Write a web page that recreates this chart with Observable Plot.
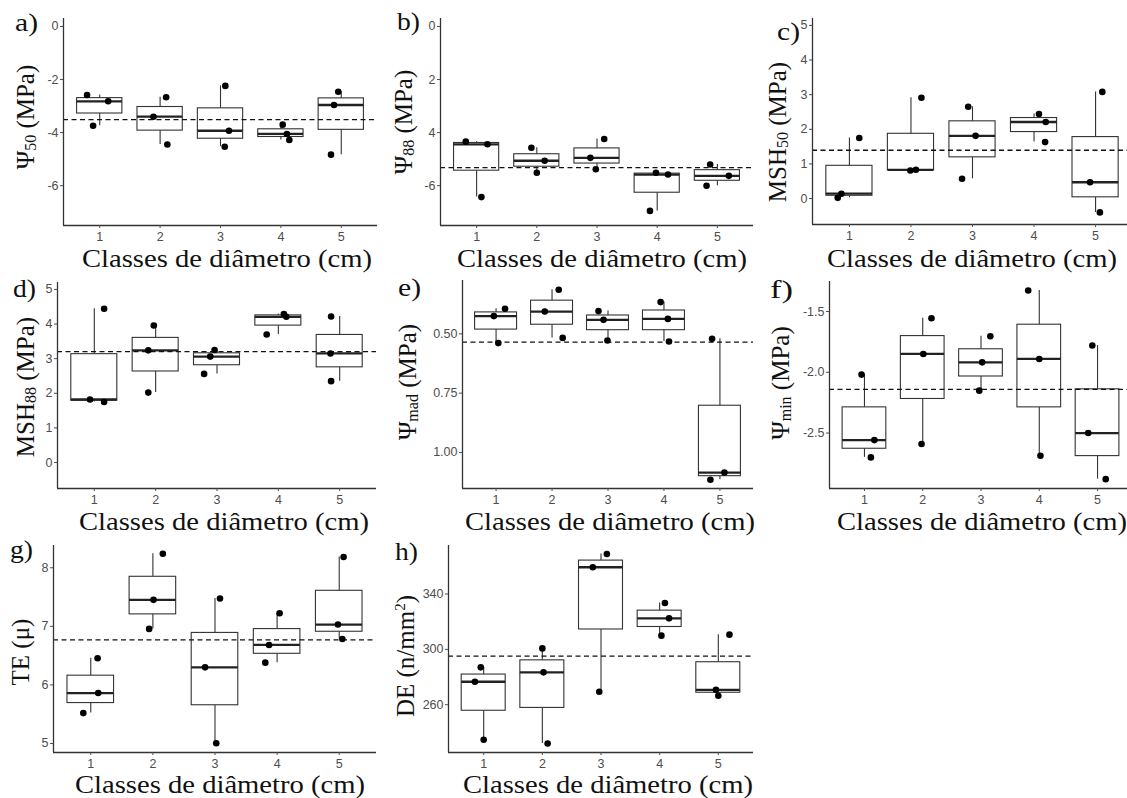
<!DOCTYPE html>
<html><head><meta charset="utf-8">
<script src="https://cdn.jsdelivr.net/npm/d3@7"></script>
<script src="https://cdn.jsdelivr.net/npm/@observablehq/plot@0.6"></script>
<style>
html,body{margin:0;padding:0;background:#fff;overflow:hidden}
#wrap{position:relative;width:1127px;height:798px;overflow:hidden;background:#fff}
#overlay{position:absolute;left:0;top:0;pointer-events:none}
</style></head><body><div id="wrap"></div>
<script>
// ---- data (3 trees per diameter class) ----
const classes = [1, 2, 3, 4, 5];
const xTitle = "Classes de diâmetro (cm)";
const panelLetters = ["a)", "b)", "c)", "d)", "e)", "f)", "g)", "h)"];

const psi50 = [[-2.58,-2.82,-3.74],[-3.40,-2.67,-4.45],[-2.24,-3.93,-4.53],[-3.70,-4.05,-4.28],[-2.46,-2.96,-4.83]];
const psi50Jit = [[-0.21,0.14,-0.11],[-0.11,0.10,0.12],[0.08,0.14,0.07],[0.03,0.10,0.14],[-0.05,-0.12,-0.17]];
const psi50Ticks = [0, -2, -4, -6];
const psi50TickLabels = ["0", "-2", "-4", "-6"];

const psi88 = [[-4.34,-4.44,-6.43],[-4.57,-5.06,-5.51],[-4.24,-4.95,-5.38],[-5.51,-5.58,-6.95],[-5.20,-5.63,-6.00]];
const psi88Jit = [[-0.18,0.18,0.08],[-0.09,0.13,0.0],[0.12,-0.11,-0.02],[-0.02,0.18,-0.12],[-0.12,0.19,-0.18]];
const psi88Ticks = [0, -2, -4, -6];
const psi88TickLabels = ["0", "2", "4", "-6"];

const msh50 = [[0.02,0.14,1.75],[0.81,0.83,2.91],[0.57,1.81,2.65],[2.44,2.21,1.63],[3.08,0.47,-0.40]];
const msh50Jit = [[-0.19,-0.13,0.16],[-0.01,0.08,0.17],[-0.17,0.05,-0.07],[0.08,0.19,0.18],[0.11,-0.09,0.07]];
const msh50Ticks = [0, 1, 2, 3, 4, 5];
const msh50TickLabels = ["0", "1", "2", "3", "4", "5"];

const msh88 = [[1.82,1.75,4.44],[3.24,3.96,2.02],[3.25,3.06,2.56],[4.29,4.21,3.70],[4.22,3.15,2.35]];
const msh88Jit = [[-0.07,0.16,0.16],[-0.12,-0.03,-0.12],[-0.04,-0.11,-0.21],[0.09,0.13,-0.19],[-0.14,-0.15,-0.14]];
const msh88Ticks = [0, 1, 2, 3, 4, 5];
const msh88TickLabels = ["0", "1", "2", "3", "4", "5"];

const psiMad = [[0.394,0.425,0.539],[0.314,0.406,0.517],[0.404,0.441,0.528],[0.366,0.437,0.532],[0.521,1.085,1.115]];
const psiMadJit = [[0.16,-0.04,0.04],[0.12,-0.13,0.19],[-0.17,-0.08,-0.01],[-0.06,0.07,0.09],[-0.14,0.08,-0.17]];
const psiMadTicks = [0.5, 0.75, 1.0];
const psiMadTickLabels = ["0.50", "0.75", "1.00"];

const psiMin = [[-2.019,-2.558,-2.70],[-1.555,-1.849,-2.59],[-1.703,-1.918,-2.151],[-1.327,-1.890,-2.687],[-1.78,-2.50,-2.879]];
const psiMinJit = [[-0.05,0.17,0.11],[0.15,0.01,-0.02],[0.16,0.02,-0.03],[-0.19,0.0,0.02],[-0.09,-0.16,0.14]];
const psiMinTicks = [-1.5, -2.0, -2.5];
const psiMinTickLabels = ["-1.5", "-2.0", "-2.5"];

const te = [[6.454,5.861,5.519],[8.24,7.452,6.956],[7.475,6.30,5.005],[7.224,6.682,6.38],[8.183,7.03,6.785]];
const teJit = [[0.11,0.12,-0.12],[0.16,0.01,-0.06],[0.08,-0.16,0.02],[0.04,-0.13,-0.19],[0.07,-0.02,0.05]];
const teTicks = [5, 6, 7, 8];
const teTickLabels = ["5", "6", "7", "8"];

const de = [[287.0,276.6,234.7],[300.7,283.4,232.0],[368.9,359.3,269.4],[333.5,322.4,309.9],[310.6,270.8,266.5]];
const deJit = [[-0.05,-0.15,0.0],[0.0,0.02,0.09],[0.10,-0.14,-0.03],[0.09,0.16,0.03],[0.19,-0.04,0.0]];
const deTicks = [260, 300, 340];
const deTickLabels = ["260", "300", "340"];

// ---- layout ----
const panels = [
  {values: psi50, jitter: psi50Jit, ticks: psi50Ticks, labels: psi50TickLabels, domain: [-7.5, 0.3], frame: [63, 377, 18, 225],
   yt: {x: 34, y: 117, parts: [["Ψ"], ["50", "sub"], [" (MPa)"]]}, xt: {x: 227, y: 266.5}, lab: {x: 15, y: 31}},
  {values: psi88, jitter: psi88Jit, ticks: psi88Ticks, labels: psi88TickLabels, domain: [-7.5, 0.3], frame: [440, 753, 18, 225],
   yt: {x: 412, y: 122, parts: [["Ψ"], ["88", "sub"], [" (MPa)"]]}, xt: {x: 602, y: 266.5}, lab: {x: 397, y: 30}},
  {values: msh50, jitter: msh50Jit, ticks: msh50Ticks, labels: msh50TickLabels, domain: [-0.75, 5.2], frame: [812, 1132, 18, 224],
   yt: {x: 786, y: 132, parts: [["MSH"], ["50", "sub"], [" (MPa)"]]}, xt: {x: 972, y: 266.5}, lab: {x: 777, y: 40}},
  {values: msh88, jitter: msh88Jit, ticks: msh88Ticks, labels: msh88TickLabels, domain: [-0.75, 5.2], frame: [57, 376, 282, 488],
   yt: {x: 34, y: 387, parts: [["MSH"], ["88", "sub"], [" (MPa)"]]}, xt: {x: 224, y: 529.5}, lab: {x: 13, y: 297}},
  {values: psiMad, jitter: psiMadJit, ticks: psiMadTicks, labels: psiMadTickLabels, domain: [0.275, 1.152], reverse: true, frame: [462, 753, 280, 488],
   yt: {x: 416, y: 382, parts: [["Ψ"], ["mad", "sub"], [" (MPa)"]]}, xt: {x: 610, y: 529.5}, lab: {x: 398, y: 296}},
  {values: psiMin, jitter: psiMinJit, ticks: psiMinTicks, labels: psiMinTickLabels, domain: [-2.956, -1.253], frame: [829, 1132, 281, 488],
   yt: {x: 789, y: 383, parts: [["Ψ"], ["min", "sub"], [" (MPa)"]]}, xt: {x: 982, y: 529.5}, lab: {x: 770, y: 298}},
  {values: te, jitter: teJit, ticks: teTicks, labels: teTickLabels, domain: [4.846, 8.38], frame: [53, 376, 545, 752],
   yt: {x: 29, y: 652, parts: [["TE (μ)"]]}, xt: {x: 220, y: 792.5}, lab: {x: 10, y: 558}},
  {values: de, jitter: deJit, ticks: deTicks, labels: deTickLabels, domain: [225.5, 375], frame: [448, 753, 545, 752],
   yt: {x: 414, y: 656, parts: [["DE (n/mm"], ["2", "sup"], [")"]]}, xt: {x: 608, y: 792.5}, lab: {x: 395, y: 560}}
];

const wrap = document.getElementById("wrap");
const mL = 45, mR = 4, mT = 4, mB = 26;

panels.forEach(p => {
  const [fl, fr, ft, fb] = p.frame;
  const rows = classes.flatMap((c, i) => p.values[i].map((v, j) => ({cls: c, x: c + p.jitter[i][j], y: v})));
  const stats = classes.map((c, i) => {
    const s = p.values[i].slice().sort(d3.ascending);
    return {cls: c, min: s[0], q1: d3.quantile(s, 0.25), med: d3.quantile(s, 0.5), q3: d3.quantile(s, 0.75), max: s[s.length - 1]};
  });
  const mean = d3.mean(rows, d => d.y);
  const labelOf = new Map(p.ticks.map((t, i) => [t, p.labels[i]]));
  const bottom = p.reverse ? p.domain[1] : p.domain[0];
  const chart = Plot.plot({
    width: fr - fl + mL + mR,
    height: fb - ft + mT + mB,
    marginLeft: mL, marginRight: mR, marginTop: mT, marginBottom: mB,
    x: {domain: [0.4, 5.6]},
    y: {domain: p.domain, reverse: !!p.reverse},
    style: {fontFamily: "'Liberation Sans', Arial, sans-serif", fontSize: "13px", color: "#4d4d4d", background: "transparent", overflow: "visible"},
    marks: [
      Plot.ruleX(stats, {x: "cls", y1: "min", y2: "q1", stroke: "#333", strokeWidth: 1.1}),
      Plot.ruleX(stats, {x: "cls", y1: "q3", y2: "max", stroke: "#333", strokeWidth: 1.1}),
      Plot.rect(stats, {x1: d => d.cls - 0.375, x2: d => d.cls + 0.375, y1: "q1", y2: "q3", fill: "white", stroke: "#333", strokeWidth: 1.1}),
      Plot.ruleY(stats, {y: "med", x1: d => d.cls - 0.375, x2: d => d.cls + 0.375, stroke: "#222", strokeWidth: 2.3}),
      Plot.ruleY([mean], {stroke: "#111", strokeWidth: 1.3, strokeDasharray: "5,3.5"}),
      Plot.dot(rows, {x: "x", y: "y", r: 3.3, fill: "#000", stroke: "none"}),
      Plot.ruleX([0.4], {stroke: "#333", strokeWidth: 1.3}),
      Plot.ruleY([bottom], {stroke: "#333", strokeWidth: 1.3}),
      Plot.axisX({ticks: classes, tickSize: 3, tickPadding: 4, fontSize: 12.5, tickFormat: d => String(d), label: null}),
      Plot.axisY({ticks: p.ticks, tickSize: 3, tickPadding: 2, fontSize: 12.5, tickFormat: d => labelOf.get(d), label: null})
    ]
  });
  chart.style.position = "absolute";
  chart.style.left = (fl - mL) + "px";
  chart.style.top = (ft - mT) + "px";
  wrap.appendChild(chart);
});

// ---- titles overlay ----
const NS = "http://www.w3.org/2000/svg";
const ov = document.createElementNS(NS, "svg");
ov.setAttribute("id", "overlay");
ov.setAttribute("width", 1127);
ov.setAttribute("height", 798);
const serif = "'Liberation Serif', 'Times New Roman', serif";
function txt(x, y, str, opts = {}) {
  const t = document.createElementNS(NS, "text");
  t.setAttribute("x", x); t.setAttribute("y", y);
  t.setAttribute("font-family", serif);
  t.setAttribute("font-size", opts.size || 25);
  t.setAttribute("fill", "#111");
  if (opts.anchor) t.setAttribute("text-anchor", opts.anchor);
  if (opts.len) { t.setAttribute("textLength", opts.len); t.setAttribute("lengthAdjust", "spacingAndGlyphs"); }
  if (opts.rotate) t.setAttribute("transform", `rotate(-90 ${x} ${y})`);
  if (str != null) t.textContent = str;
  ov.appendChild(t);
  return t;
}
panels.forEach((p, i) => {
  txt(p.xt.x, p.xt.y, xTitle, {anchor: "middle", len: 290, size: 24.5});
  txt(p.lab.x, p.lab.y, panelLetters[i], {len: 23});
  const t = txt(p.yt.x, p.yt.y, null, {anchor: "middle", rotate: true});
  p.yt.parts.forEach(([s, kind]) => {
    const ts = document.createElementNS(NS, "tspan");
    ts.textContent = s;
    if (kind === "sub") { ts.setAttribute("font-size", 16); ts.setAttribute("baseline-shift", "-2"); }
    if (kind === "sup") { ts.setAttribute("font-size", 15); ts.setAttribute("baseline-shift", "9"); }
    t.appendChild(ts);
  });
});
wrap.appendChild(ov);
</script>
</body></html>
